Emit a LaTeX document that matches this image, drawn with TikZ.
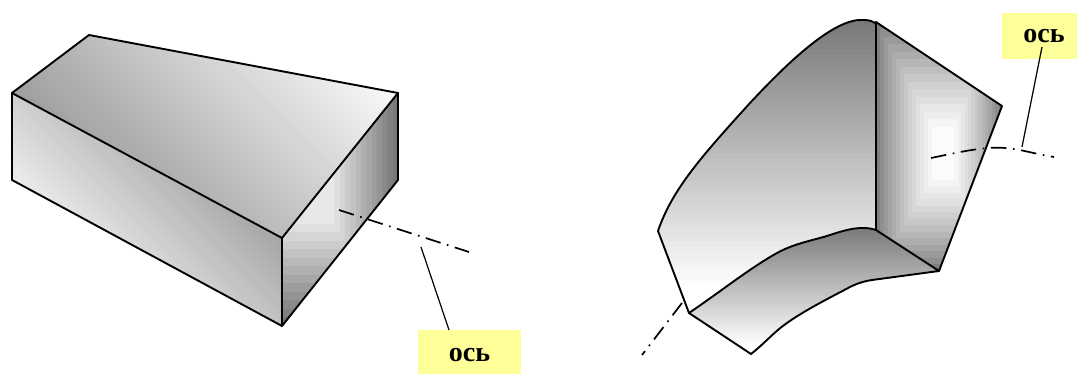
\documentclass[tikz,border=0pt]{standalone}
\usepackage{fontspec}
\setmainfont{Liberation Serif}
\definecolor{tagyellow}{RGB}{255,255,153}
\tikzset{
  edge/.style={draw=black,line width=1.9pt,line join=round,line cap=round},
  axisline/.style={black,line width=1.7pt,dash pattern=on 15.5pt off 6.7pt on 1.6pt off 6.6pt},
  leader/.style={black,line width=1.2pt},
  tag/.style={fill=tagyellow,inner sep=0pt,font=\fontsize{28}{28}\selectfont\bfseries,text=black},
}
% linear gradient from (x1,y1) lightness g1 to (x2,y2) lightness g2 (percent), painted as half-plane strips
\newcommand{\bandfill}[6]{%
  \pgfmathsetmacro\bdx{#4-#1}\pgfmathsetmacro\bdy{#5-#2}%
  \pgfmathsetmacro\blen{veclen(\bdx,\bdy)}%
  \pgfmathsetmacro\bux{\bdx/\blen}\pgfmathsetmacro\buy{\bdy/\blen}%
  \fill[white!#3!black] (-300,-300) rectangle (1400,700);
  \foreach \i in {1,...,48}{%
    \pgfmathsetmacro\bt{\i/48}%
    \pgfmathsetmacro\bg{#3+(#6-#3)*\bt}%
    \pgfmathsetmacro\px{#1+\bt*\bdx}\pgfmathsetmacro\py{#2+\bt*\bdy}%
    \fill[white!\bg!black]
      (\px+1500*\buy,\py-1500*\bux) -- (\px-1500*\buy,\py+1500*\bux)
      -- (\px-1500*\buy+1500*\bux,\py+1500*\bux+1500*\buy)
      -- (\px+1500*\buy+1500*\bux,\py-1500*\bux+1500*\buy) -- cycle;
  }%
}
\begin{document}
\begin{tikzpicture}[x=1pt,y=-1pt]
\useasboundingbox (0,0) rectangle (1077,374);
% LEFT top
\begin{scope}
\clip (12,93) -- (89,35) -- (398,93) -- (282,238) -- cycle;
\bandfill{12}{93}{62}{204}{-99}{98}
\end{scope}
% LEFT front
\begin{scope}
\clip (12,93) -- (282,238) -- (282,326) -- (12,180) -- cycle;
\bandfill{282}{238}{65}{176}{344}{93}
\end{scope}
% LEFT side
\begin{scope}
\clip (398,93) -- (398,180) -- (282,326) -- (282,238) -- cycle;
\foreach \k in {0,...,12}{
  \pgfmathsetmacro\g{47+44*\k/12}
  \fill[white!\g!black] (150,0) rectangle ({398-5.3*\k},{326-8.5*\k});
}
\end{scope}
\draw[edge] (12,93) -- (89,35) -- (398,93) -- (398,180) -- (282,326) -- (12,180) -- cycle;
\draw[edge] (12,93) -- (282,238) -- (398,93);
\draw[edge] (282,238) -- (282,326);
\coordinate (la) at (339,210);
\coordinate (lb) at (469,252);
\coordinate (lc) at (421,247);
\coordinate (ld) at (449,330);
\draw[axisline] (la) -- (lb);
\node[tag,minimum width=103pt,minimum height=44pt,text height=18pt,text depth=0pt] (ltag) at (469.5,352) {ось};
\draw[leader] (lc) -- (ld);
% RIGHT big face
\begin{scope}
\clip (876,22) -- (863,20) .. controls (835,18) and (790,60) .. (750,103) .. controls (700,158) and (672,190) .. (658,231) -- (689,313) .. controls (720,292) and (750,268) .. (777,253) .. controls (795,243) and (815,240) .. (830,235) .. controls (845,230) and (862,225) .. (876,230) -- cycle;
\bandfill{800}{22}{48}{800}{285}{100}
\end{scope}
% RIGHT bottom face
\begin{scope}
\clip (689,313) .. controls (720,292) and (750,268) .. (777,253) .. controls (795,243) and (815,240) .. (830,235) .. controls (845,230) and (862,225) .. (876,230) -- (939,271) -- (872,280) .. controls (865,281) and (858,283) .. (850,287) .. controls (835,295) and (805,310) .. (787,323) .. controls (775,331) and (765,343) .. (751,354) -- cycle;
\bandfill{800}{228}{48}{800}{345}{100}
\end{scope}
% RIGHT side face: nested rectangles
\begin{scope}
\clip (876,22) -- (1002,106) -- (939,271) -- (876,230) -- cycle;
\foreach \k in {0,...,14}{
  \pgfmathsetmacro\g{50+49*(\k/14)^0.8}
  \fill[white!\g!black] ({876+4*\k},{22+7.5*\k}) rectangle ({1002-3.4*\k},{271-6.5*\k});
}
\end{scope}
\draw[edge] (876,24) .. controls (873,21) and (869,20) .. (863,20) .. controls (835,18) and (790,60) .. (750,103) .. controls (700,158) and (672,190) .. (658,231) -- (689,313) -- (751,354) .. controls (765,343) and (775,331) .. (787,323) .. controls (805,310) and (835,295) .. (850,287) .. controls (858,283) and (865,281) .. (872,280) -- (939,271) -- (1002,106) -- (876,22) -- (876,230) -- (939,271);
\draw[edge] (689,313) .. controls (720,292) and (750,268) .. (777,253) .. controls (795,243) and (815,240) .. (830,235) .. controls (845,230) and (862,225) .. (876,230);
\coordinate (ra) at (931,158);
\coordinate (rb) at (1054,157);
\coordinate (rc) at (1022,147);
\coordinate (rf) at (1042,47);
\draw[axisline] (ra) .. controls (955,153) and (985,146) .. (1005,148) .. controls (1020,149) and (1035,154) .. (rb);
\node[tag,minimum width=75pt,minimum height=46pt,text height=13pt,text depth=0pt] (rtag) at (1039.5,36) {\hspace{9pt}ось};
\draw[leader] (rf) -- (rc);
\coordinate (rd) at (682,303);
\coordinate (re) at (642,355);
\draw[axisline] (rd) -- (re);
\end{tikzpicture}
\end{document}
